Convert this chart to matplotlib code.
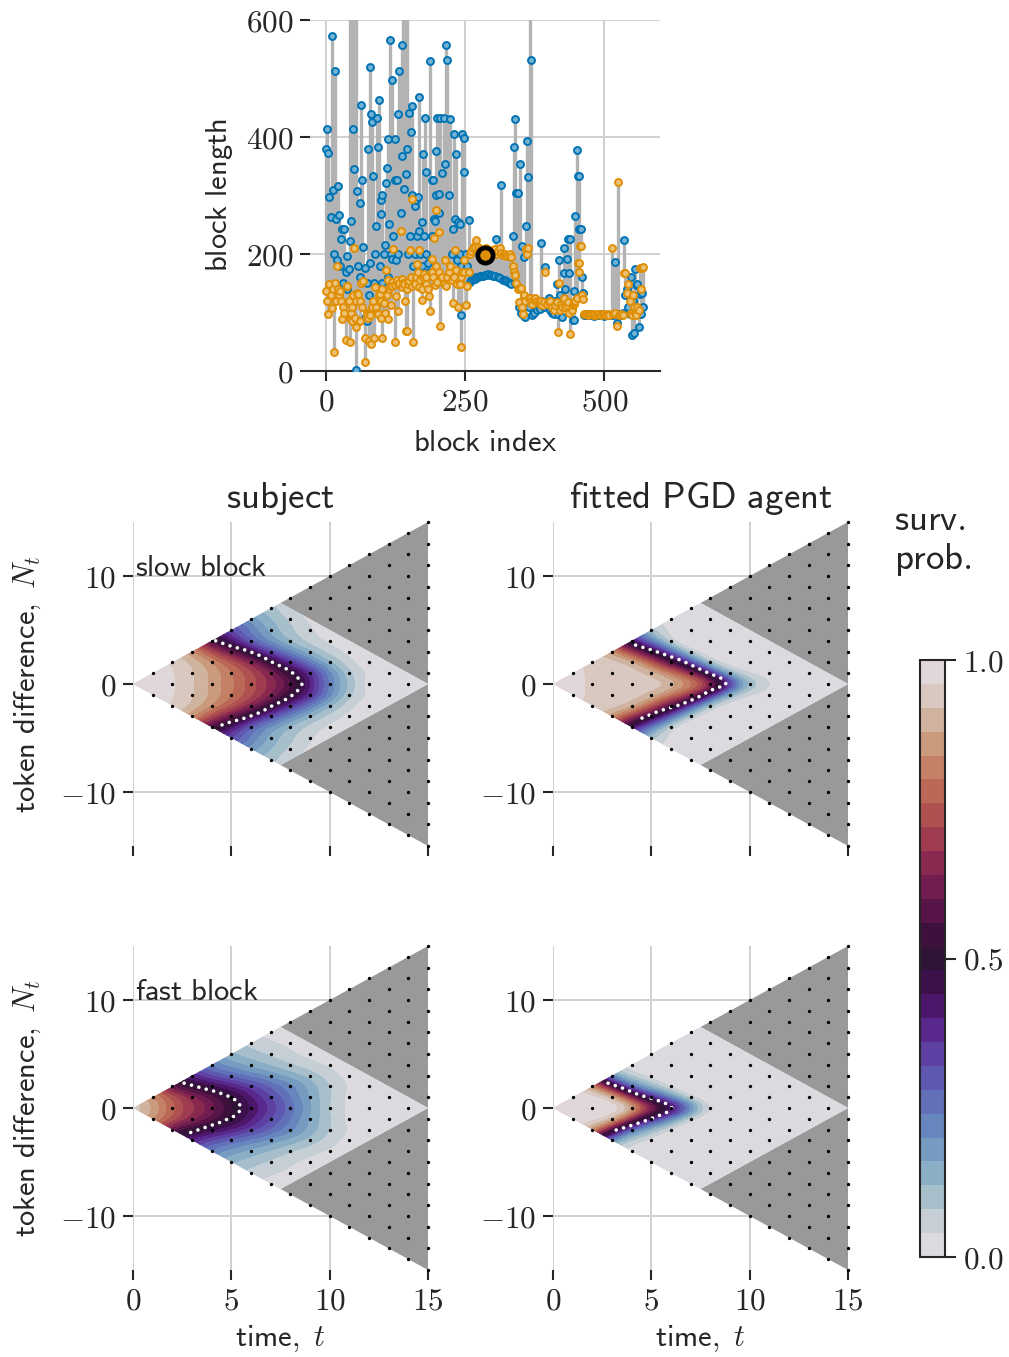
import numpy as np
import matplotlib
matplotlib.use("Agg")
import matplotlib.pyplot as plt
import matplotlib.tri as mtri
from matplotlib.patches import Polygon
from matplotlib.ticker import FuncFormatter
from matplotlib.colors import to_rgb

plt.rcParams["mathtext.fontset"] = "cm"
plt.rcParams["font.family"] = ["DejaVu Sans"]

TXT = "#262626"
BLUE = "#0173b2"
ORANGE = "#de8f05"
GRID = "#d0d0d0"
ABSORB = "#999999"
BAR = "#b3b3b3"

# ---------------- top panel data (block index, two block-length series) ----------------
block_idx = [0, 2, 4, 6, 8, 10, 12, 14, 16, 18, 20, 21, 24, 25, 26, 29, 31, 33, 35, 37, 38, 41, 42, 43, 44, 45, 46, 47,
             48, 50, 51, 53, 54, 56, 58, 60, 61, 62, 64, 66, 69, 70, 73, 74, 76, 77, 78, 79, 81, 82, 85, 86, 88, 89, 92,
             94, 95, 96, 98, 99, 100, 101, 104, 105, 107, 110, 111, 112, 113, 114, 116, 118, 119, 121, 123, 124, 125,
             128, 129, 130, 131, 134, 136, 137, 139, 140, 142, 143, 145, 146, 148, 149, 150, 152, 154, 155, 157, 159,
             160, 161, 163, 165, 166, 167, 169, 172, 173, 174, 176, 178, 179, 180, 183, 184, 186, 190, 191, 192, 193,
             195, 197, 198, 199, 202, 203, 204, 208, 211, 214, 216, 218, 220, 223, 226, 228, 230, 232, 233, 235, 237,
             240, 241, 242, 243, 245, 247, 248, 251, 254, 257,
             258, 261, 264, 267, 268, 270, 273, 276, 279, 282, 285, 288, 291, 294, 297, 300, 303, 306, 309, 312, 315,
             318, 321, 324, 327, 330, 333,
             336, 338, 339, 340, 342, 344, 346, 348, 350, 352, 354, 356, 358, 360, 361, 363, 365, 366, 368, 370, 373,
             376, 379, 382, 384, 386, 388, 391, 394, 397, 400, 403, 406, 409, 412, 414, 416, 418, 420, 422, 424, 427,
             428, 430, 433, 435, 437, 439, 441, 443, 445, 446, 448, 450, 452, 454, 455, 456, 458, 460, 462,
             464, 467, 470, 473, 476, 479, 482, 485, 488, 491, 494, 497, 500, 503, 506, 509,
             513, 516, 520, 522, 524, 527, 530, 533, 535, 537, 540, 543, 546, 548, 550, 552, 553, 555, 557, 559, 562,
             564, 566, 567, 570]
len_blue = [380, 413, 373, 297, 263, 572, 310, 200, 513, 260, 190, 316, 266, 180, 226, 243, 150, 243, 170, 197, 140,
            174, 223, 700, 720, 256, 700, 700, 414, 346, 680, 650, 1, 307, 180, 288, 160, 454, 326, 212, 176, 90, 86,
            150, 380, 130, 520, 184, 440, 426, 333, 150, 200, 248, 432, 383, 463, 180, 268, 292, 150, 301, 200, 215,
            321, 347, 397, 160, 251, 565, 200, 192, 497, 230, 397, 326, 190, 327, 440, 200, 512, 270, 368, 557, 700,
            311, 680, 337, 650, 380, 200, 441, 230, 409, 453, 300, 180, 282, 200, 293, 230, 297, 240, 468, 200, 255,
            180, 371, 230, 432, 340, 200, 185, 170, 530, 327, 230, 326, 260, 257, 376, 300, 432, 270, 302, 432, 338,
            432, 354, 558, 531, 300, 430, 200, 243, 405, 260, 371, 190, 254, 252, 200, 95, 180, 405, 341, 399, 200,
            180, 258,
            152, 155, 157, 158, 207, 160, 161, 162, 163, 163, 164, 164, 165, 164, 164, 163, 162, 225, 160, 159, 318,
            156, 155, 153, 152, 150, 148,
            230, 383, 431, 150, 305, 305, 110, 354, 100, 213, 95, 195, 93, 248, 393, 332, 110, 650, 532, 96, 100,
            110, 105, 115, 106, 218, 120, 110, 178, 118, 125, 105, 100, 97, 120, 148, 97, 190, 130, 110, 92, 211,
            168, 140, 192, 225, 167, 225, 110, 87, 88, 136, 265, 377, 334, 334, 243, 243, 243, 160, 134,
            96, 95, 97, 96, 95, 96, 94, 95, 96, 95, 97, 95, 94, 96, 95, 96,
            95, 96, 187, 82, 95, 97, 96, 100, 224, 130, 140, 110, 98, 160, 61, 120, 65, 175, 147, 149, 76,
            132, 98, 134, 110]
len_orange = [136, 120, 97, 149, 130, 107, 140, 32, 150, 120, 180, 140, 130, 137, 120, 89, 110, 100, 53, 145, 145,
              120, 90, 49, 95, 100, 110, 86, 130, 211, 90, 75, 120, 133, 132, 120, 86, 150, 110, 153, 57, 16, 100,
              96, 90, 52, 100, 95, 46, 110, 120, 56, 143, 110, 100, 97, 130, 132, 90, 120, 56, 140, 117, 100, 172,
              130, 156, 89, 140, 146, 113, 152, 145, 208, 49, 147, 129, 155, 148, 103, 151, 240, 144, 158, 150, 148,
              120, 69, 140, 68, 149, 153, 207, 160, 146, 294, 49, 152, 149, 160, 183, 170, 207, 143, 156, 140, 121,
              160, 165, 154, 160, 149, 140, 129, 103, 170, 192, 160, 227, 147, 180, 276, 152, 238, 170, 77, 161, 149,
              189, 145, 160, 170, 180, 155, 117, 160, 206, 173, 148, 109, 153, 149, 160, 41, 170, 189, 170, 113, 146,
              170,
              200, 205, 210, 215, 212, 224, 212, 208, 203, 206, 200, 210, 204, 198, 206, 202, 208, 200, 205, 210, 202,
              198, 200, 196, 198, 200, 195,
              180, 170, 164, 164, 150, 140, 118, 142, 142, 110, 97, 130, 120, 208, 200, 210, 124, 125, 120, 115, 122,
              125, 120, 118, 115, 120, 112, 118, 169, 115, 118, 120, 110, 105, 112, 118, 67, 150, 105, 115, 110, 120,
              125, 110, 112, 118, 100, 64, 105, 112, 115, 118, 120, 125, 184, 184, 170, 213, 214, 130, 123,
              98, 97, 96, 97, 98, 96, 97, 96, 98, 97, 96, 97, 98, 96, 97, 96,
              210, 97, 100, 77, 323, 96, 97, 96, 168, 168, 134, 148, 120, 100, 96, 130, 110, 100, 95, 110, 105,
              176, 140, 176, 177]
hl_idx = 286
hl_len = 199

# ---------------- survival-probability values on the (t, |N|) lattice ----------------
# row k holds |N| = k, at t = k, k+2, k+4, ... <= 15
surv_subject_slow = [
    [1.00, 0.97, 0.87, 0.74, 0.59, 0.22, 0.01, 0.00],
    [0.99, 0.93, 0.81, 0.66, 0.38, 0.08, 0.00, 0.00],
    [0.97, 0.85, 0.67, 0.35, 0.11, 0.00, 0.00],
    [0.86, 0.60, 0.30, 0.11, 0.02, 0.00, 0.00],
    [0.53, 0.25, 0.10, 0.02, 0.00, 0.00],
    [0.33, 0.14, 0.04, 0.00, 0.00, 0.00],
    [0.18, 0.07, 0.00, 0.00, 0.00],
    [0.08, 0.00, 0.00, 0.00, 0.00],
]
surv_agent_slow = [
    [1.00, 0.95, 0.93, 0.94, 0.79, 0.12, 0.00, 0.00],
    [0.97, 0.94, 0.93, 0.70, 0.06, 0.00, 0.00, 0.00],
    [0.96, 0.93, 0.58, 0.02, 0.00, 0.00, 0.00],
    [0.86, 0.50, 0.01, 0.00, 0.00, 0.00, 0.00],
    [0.40, 0.00, 0.00, 0.00, 0.00, 0.00],
    [0.08, 0.00, 0.00, 0.00, 0.00, 0.00],
    [0.01, 0.00, 0.00, 0.00, 0.00],
    [0.00, 0.00, 0.00, 0.00, 0.00],
]
surv_subject_fast = [
    [1.00, 0.76, 0.63, 0.44, 0.27, 0.07, 0.00, 0.00],
    [0.87, 0.67, 0.50, 0.32, 0.15, 0.02, 0.00, 0.00],
    [0.56, 0.45, 0.34, 0.22, 0.08, 0.00, 0.00],
    [0.36, 0.26, 0.18, 0.10, 0.02, 0.00, 0.00],
    [0.21, 0.14, 0.08, 0.03, 0.00, 0.00],
    [0.12, 0.07, 0.02, 0.00, 0.00, 0.00],
    [0.06, 0.03, 0.00, 0.00, 0.00],
    [0.02, 0.00, 0.00, 0.00, 0.00],
]
surv_agent_fast = [
    [1.00, 1.00, 0.98, 0.55, 0.03, 0.00, 0.00, 0.00],
    [1.00, 0.97, 0.35, 0.00, 0.00, 0.00, 0.00, 0.00],
    [0.88, 0.20, 0.00, 0.00, 0.00, 0.00, 0.00],
    [0.12, 0.00, 0.00, 0.00, 0.00, 0.00, 0.00],
    [0.00, 0.00, 0.00, 0.00, 0.00, 0.00],
    [0.00, 0.00, 0.00, 0.00, 0.00, 0.00],
    [0.00, 0.00, 0.00, 0.00, 0.00],
    [0.00, 0.00, 0.00, 0.00, 0.00],
]

# decision boundaries (white dotted lines)
bound_subject_slow_t = [4.2, 4.9, 5.8, 6.5, 7.1, 7.8, 8.3, 8.6, 8.3, 7.8, 7.1, 6.5, 5.8, 4.9, 4.2]
bound_subject_slow_N = [4.0, 3.55, 3.1, 2.6, 2.0, 1.4, 0.8, 0.0, -0.8, -1.4, -2.0, -2.6, -3.1, -3.55, -4.0]
bound_agent_slow_t = [4.2, 5.1, 6.5, 7.8, 8.6, 8.8, 8.6, 8.0, 7.3, 6.5, 5.4, 4.2]
bound_agent_slow_N = [3.6, 3.1, 2.2, 1.1, 0.5, 0.0, -0.2, -0.6, -1.3, -1.9, -2.5, -3.4]
bound_subject_fast_t = [2.6, 3.6, 4.25, 4.9, 5.35, 5.5, 5.45, 5.1, 4.4, 3.75, 2.8]
bound_subject_fast_N = [2.3, 1.8, 1.5, 1.05, 0.6, 0.0, -0.25, -0.8, -1.35, -1.75, -2.35]
bound_agent_fast_t = [2.8, 3.6, 4.4, 5.25, 5.9, 6.05, 5.85, 5.25, 4.6, 3.75, 2.9]
bound_agent_fast_N = [2.3, 1.8, 1.2, 0.75, 0.3, 0.0, -0.35, -0.8, -1.25, -1.75, -2.2]

panel_titles = ["subject", "fitted PGD agent"]
row_labels = ["slow block", "fast block"]

# ---------------- helpers ----------------
W, H = 1009, 1357
cmap = plt.get_cmap("twilight")
levels = np.linspace(0, 1, 26)
tg = np.linspace(0, 15, 376)
ng = np.linspace(-8, 8, 401)
TT, NN = np.meshgrid(tg, ng)
TICK_FS = 22.5


def gblur(A, s):
    r = int(3 * s)
    x = np.arange(-r, r + 1)
    k = np.exp(-0.5 * (x / s) ** 2)
    k /= k.sum()
    A = np.apply_along_axis(lambda m: np.convolve(m, k, mode="same"), 0, A)
    A = np.apply_along_axis(lambda m: np.convolve(m, k, mode="same"), 1, A)
    return A


def field(rows, sigma=0.45):
    vals = {}
    for k, row in enumerate(rows):
        for j, v in enumerate(row):
            t = k + 2 * j
            vals[(t, k)] = v
            vals[(t, -k)] = v
    keys = list(vals)
    ind = {key: i for i, key in enumerate(keys)}
    tt = np.array([key[0] for key in keys], float)
    nn = np.array([key[1] for key in keys], float)
    zz = np.array([vals[key] for key in keys], float)
    tris = []
    for u in range(16):
        for v in range(16):
            a = (u + v, u - v)
            b = (u + v + 1, u - v + 1)
            c = (u + v + 1, u - v - 1)
            d = (u + v + 2, u - v)
            if all(p in ind for p in (a, b, d)):
                tris.append([ind[a], ind[b], ind[d]])
            if all(p in ind for p in (a, c, d)):
                tris.append([ind[a], ind[c], ind[d]])
            if d not in ind and all(p in ind for p in (a, b, c)):
                tris.append([ind[a], ind[b], ind[c]])
    tri = mtri.Triangulation(tt, nn, np.array(tris))
    Z = mtri.LinearTriInterpolator(tri, zz)(TT, NN)
    w = (~np.ma.getmaskarray(Z)).astype(float)
    zf = np.ma.filled(Z, 0.0)
    s = sigma / (tg[1] - tg[0])
    Zs = gblur(zf * w, s) / np.maximum(gblur(w, s), 1e-9)
    return np.clip(Zs, 0.0, 1.0)


def light(c, f=0.45):
    r = np.array(to_rgb(c))
    return tuple(r * (1 - f) + f)


mfmt = FuncFormatter(lambda v, p: r"$%g$" % v)

fig = plt.figure(figsize=(W / 100, H / 100), dpi=100)

# ---------------- top panel ----------------
ax0 = fig.add_axes([310 / W, 1 - 371 / H, 350 / W, 351 / H])
b = np.array(len_blue, float)
o = np.array(len_orange, float)
ax0.vlines(block_idx, np.minimum(b, o), np.maximum(b, o), colors=BAR, lw=2.4, zorder=2)
ax0.plot(block_idx, b, ls="none", marker="o", ms=5.0, mfc=light(BLUE), mec=BLUE, mew=1.4, zorder=3)
ax0.plot(block_idx, o, ls="none", marker="o", ms=5.0, mfc=light(ORANGE), mec=ORANGE, mew=1.4, zorder=4)
ax0.plot([hl_idx], [hl_len], ls="none", marker="o", ms=11, mfc=ORANGE, mec="black", mew=3.4, zorder=6)
ax0.set_xlim(-29, 600)
ax0.set_ylim(0, 600)
ax0.set_xticks([0, 250, 500])
ax0.set_yticks([0, 200, 400, 600])
ax0.xaxis.set_major_formatter(mfmt)
ax0.yaxis.set_major_formatter(mfmt)
ax0.grid(True, color=GRID, lw=1.4)
ax0.set_axisbelow(True)
for s in ["left", "top", "right"]:
    ax0.spines[s].set_visible(False)
ax0.spines["bottom"].set_color(TXT)
ax0.spines["bottom"].set_linewidth(1.5)
ax0.tick_params(length=7, width=1.5, color=TXT, labelsize=TICK_FS, labelcolor=TXT, pad=5)
ax0.set_xlabel(r"$\mathsf{block\ index}$", fontsize=22, color=TXT, labelpad=8)
ax0.set_ylabel(r"$\mathsf{block\ length}$", fontsize=22, color=TXT, labelpad=8)

# ---------------- survival panels ----------------
dots_t = [t for t in range(1, 16) for n in range(-t, t + 1, 2)]
dots_n = [n for t in range(1, 16) for n in range(-t, t + 1, 2)]

panels = [
    (133, 522, surv_subject_slow, bound_subject_slow_t, bound_subject_slow_N, 0, 0),
    (553, 522, surv_agent_slow, bound_agent_slow_t, bound_agent_slow_N, 0, 1),
    (133, 946, surv_subject_fast, bound_subject_fast_t, bound_subject_fast_N, 1, 0),
    (553, 946, surv_agent_fast, bound_agent_fast_t, bound_agent_fast_N, 1, 1),
]
cs_last = None
for x0, y0, rows, bt, bn, r, c in panels:
    ax = fig.add_axes([x0 / W, 1 - (y0 + 324) / H, 295 / W, 324 / H])
    ax.set_xlim(0, 15)
    ax.set_ylim(-15, 15)
    ax.set_xticks([0, 5, 10, 15])
    ax.set_yticks([-10, 0, 10])
    ax.xaxis.set_major_formatter(mfmt)
    ax.yaxis.set_major_formatter(mfmt)
    ax.grid(True, color=GRID, lw=1.4)
    ax.set_axisbelow(True)
    for s in ax.spines.values():
        s.set_visible(False)
    ax.tick_params(length=7, width=1.5, color=TXT, labelsize=TICK_FS, labelcolor=TXT, pad=5)
    if r == 0:
        ax.tick_params(labelbottom=False)
        ax.set_title(r"$\mathsf{%s}$" % panel_titles[c].replace(" ", r"\ "), fontsize=26.5, color=TXT, pad=10)
    else:
        ax.set_xlabel(r"$\mathsf{time,}\ t$", fontsize=22, color=TXT, labelpad=6)
    if c == 0:
        ax.set_ylabel(r"$\mathsf{token\ difference,}\ N_t$", fontsize=22, color=TXT, labelpad=12)
        ax.text(0.1, 10, r"$\mathsf{%s}$" % row_labels[r].replace(" ", r"\ "), fontsize=22, color=TXT,
                ha="left", va="baseline", zorder=6)
    ax.add_patch(Polygon([(7.5, 7.5), (15, 15), (15, 0)], closed=True, fc=ABSORB, ec="none", zorder=1))
    ax.add_patch(Polygon([(7.5, -7.5), (15, -15), (15, 0)], closed=True, fc=ABSORB, ec="none", zorder=1))
    diamond = Polygon([(0, 0), (7.5, 7.5), (15, 0), (7.5, -7.5)], closed=True, fc=cmap(0.0), ec="none", zorder=1)
    ax.add_patch(diamond)
    Z = field(rows)
    cs = ax.contourf(TT, NN, Z, levels=levels, cmap=cmap, vmin=0, vmax=1, zorder=2)
    cs.set_clip_path(diamond)
    cs_last = cs
    ax.plot(bt, bn, color="white", lw=2.6, ls=(0, (0.01, 2.1)), dash_capstyle="round", zorder=4)
    ax.plot(dots_t, dots_n, ls="none", marker="o", ms=2.4, color="black", mew=0, zorder=5, clip_on=False)

# ---------------- colorbar ----------------
cax = fig.add_axes([920 / W, 1 - 1257 / H, 25 / W, 597 / H])
cb = fig.colorbar(cs_last, cax=cax, ticks=[0, 0.5, 1])
cb.ax.set_yticklabels([r"$0.0$", r"$0.5$", r"$1.0$"])
cb.outline.set_edgecolor(TXT)
cb.outline.set_linewidth(1.5)
cb.ax.tick_params(length=8, width=1.5, color=TXT, labelsize=TICK_FS, labelcolor=TXT, pad=5)
fig.text(894 / W, 1 - 520 / H, r"$\mathsf{surv.}$", fontsize=26.5, color=TXT, ha="left", va="center")
fig.text(894 / W, 1 - 560 / H, r"$\mathsf{prob.}$", fontsize=26.5, color=TXT, ha="left", va="center")

fig.savefig("out.png", dpi=100, facecolor="white")
